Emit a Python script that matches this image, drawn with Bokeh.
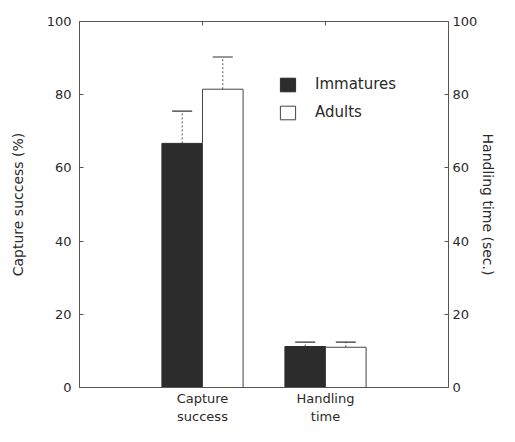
from bokeh.plotting import figure
from bokeh.models import (Range1d, LinearAxis, FixedTicker, Whisker, TeeHead,
                          ColumnDataSource, Legend, LegendItem)
from bokeh.embed import file_html
from bokeh.resources import INLINE

# ---- data ----
groups = ["Capture\nsuccess", "Handling\ntime"]
group_pos = [1, 2]
immature = [66.7, 11.2]
adult = [81.5, 11.0]
immature_err = [8.8, 1.2]
adult_err = [8.8, 1.4]
y_ticks = [0, 20, 40, 60, 80, 100]

FONT = "DejaVu Sans"
TXT = "#2a2a2a"
AX = "#555555"
DARK = "#2c2c2c"

p = figure(width=499, height=426, output_backend="svg", toolbar_location=None,
           x_range=Range1d(0, 3), y_range=Range1d(0, 100),
           min_border_left=79, min_border_right=49, min_border_top=21,
           min_border_bottom=36)
p.extra_y_ranges = {"handling": Range1d(0, 100)}
p.grid.visible = False
p.outline_line_color = None
p.background_fill_color = "white"
p.border_fill_color = "white"

off = 0.165
w = 0.33
imm_x = [g - off for g in group_pos]
ad_x = [g + off for g in group_pos]

src_imm = ColumnDataSource(dict(x=imm_x, top=immature,
                                up=[v + e for v, e in zip(immature, immature_err)]))
src_ad = ColumnDataSource(dict(x=ad_x, top=adult,
                               up=[v + e for v, e in zip(adult, adult_err)]))

r_imm = p.vbar(x="x", top="top", width=w, source=src_imm, fill_color=DARK,
               line_color=DARK, line_width=1)
r_ad = p.vbar(x="x", top="top", width=w, source=src_ad, fill_color="white",
              line_color="#444444", line_width=1)

for src in (src_imm, src_ad):
    wk = Whisker(source=src, base="x", lower="top", upper="up", dimension="height",
                 line_color="#555555", line_dash="2 2", line_width=1,
                 upper_head=TeeHead(size=20, line_color="#333333", line_width=1.2),
                 lower_head=None)
    p.add_layout(wk)

# left axis
ya = p.yaxis[0]
ya.ticker = FixedTicker(ticks=y_ticks)
ya.axis_label = "Capture success (%)"

# right axis
ra = LinearAxis(y_range_name="handling", ticker=FixedTicker(ticks=y_ticks),
                axis_label="Handling time (sec.)")
p.add_layout(ra, "right")

# bottom axis
xa = p.xaxis[0]
xa.ticker = FixedTicker(ticks=group_pos)
xa.major_label_overrides = {g: lab for g, lab in zip(group_pos, groups)}

# top axis
ta = LinearAxis(ticker=FixedTicker(ticks=group_pos))
ta.major_label_standoff = 0
ta.major_label_overrides = {g: "" for g in group_pos}
p.add_layout(ta, "above")

for ax in (ya, ra, xa, ta):
    ax.axis_line_color = AX
    ax.axis_line_width = 1
    ax.minor_tick_line_color = None
    ax.major_tick_in = 4
    ax.major_tick_out = 0
    ax.major_tick_line_color = AX
    ax.major_label_text_font = FONT
    ax.major_label_text_color = TXT
    ax.axis_label_text_font = FONT
    ax.axis_label_text_color = TXT
    ax.axis_label_text_font_style = "normal"
xa.major_tick_line_color = None

for ax in (ya, ra):
    ax.major_label_text_font_size = "13px"
    ax.axis_label_text_font_size = "14px"
ya.major_label_standoff = 8
ya.axis_label_standoff = 18
ra.major_label_standoff = 4
ra.axis_label_standoff = 0

xa.major_label_text_font_size = "13px"
xa.major_label_standoff = 3
ta.major_label_text_font_size = "0px"

legend = Legend(items=[LegendItem(label="Immatures", renderers=[r_imm]),
                       LegendItem(label="Adults", renderers=[r_ad])],
                location=(199, 266), border_line_alpha=0, background_fill_alpha=0,
                padding=0, margin=0, spacing=10, glyph_width=19, glyph_height=17,
                label_height=17, label_standoff=18,
                label_text_font=FONT, label_text_font_size="15px",
                label_text_color=TXT)
p.add_layout(legend)

open("out.html", "w").write(file_html(p, INLINE))
